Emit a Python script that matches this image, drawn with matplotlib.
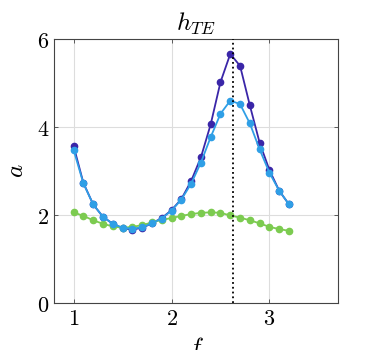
import numpy as np
import matplotlib
matplotlib.use("Agg")
import matplotlib.pyplot as plt

plt.rcParams['mathtext.fontset'] = 'cm'
plt.rcParams['font.family'] = 'serif'
plt.rcParams['font.serif'] = ['DejaVu Serif']

f = [1.0, 1.1, 1.2, 1.3, 1.4, 1.5, 1.6, 1.7, 1.8, 1.9, 2.0, 2.1,
     2.2, 2.3, 2.4, 2.5, 2.6, 2.7, 2.8, 2.9, 3.0, 3.1, 3.2]
a_dark = [3.57, 2.73, 2.24, 1.96, 1.80, 1.70, 1.67, 1.71, 1.81, 1.93, 2.11, 2.36,
          2.77, 3.31, 4.06, 5.02, 5.66, 5.39, 4.49, 3.64, 3.02, 2.55, 2.24]
a_light = [3.48, 2.72, 2.24, 1.96, 1.80, 1.71, 1.69, 1.72, 1.81, 1.92, 2.10, 2.35,
           2.71, 3.19, 3.77, 4.30, 4.60, 4.52, 4.08, 3.49, 2.96, 2.55, 2.24]
a_green = [2.06, 1.98, 1.88, 1.80, 1.74, 1.71, 1.73, 1.77, 1.83, 1.89, 1.93, 1.98,
           2.02, 2.05, 2.06, 2.05, 1.99, 1.94, 1.88, 1.81, 1.73, 1.68, 1.64]
f_marker = 2.63
xticks = [1, 2, 3]
yticks = [0, 2, 4, 6]

fig = plt.figure(figsize=(3.73, 3.5), dpi=100)
ax = fig.add_axes([54/373, 47/350, 284/373, 264/350])

ax.plot(f, a_dark, '-o', color='#3a26a8', lw=1.3, ms=4.5, zorder=3)
ax.plot(f, a_light, '-o', color='#2f9fe6', lw=1.3, ms=4.5, zorder=4)
ax.plot(f, a_green, '-o', color='#7ccb50', lw=1.3, ms=4.5, zorder=3)
ax.axvline(f_marker, color='black', ls=':', lw=1.3, zorder=5)

ax.set_xlim(0.8, 3.7)
ax.set_ylim(0, 6)
ax.set_xticks(xticks)
ax.set_yticks(yticks)
ax.set_xticklabels([f'${t}$' for t in xticks], fontsize=16)
ax.set_yticklabels([f'${t}$' for t in yticks], fontsize=16)
ax.grid(True, color='#dddddd', lw=0.8)
ax.set_axisbelow(True)
ax.tick_params(direction='in', top=True, right=True, length=3, width=0.6, color='#444444')
for s in ax.spines.values():
    s.set_color('#444444')
    s.set_linewidth(0.8)

ax.set_title(r'$h_{TE}$', fontsize=18, pad=6)
ax.set_ylabel(r'$a$', fontsize=18, labelpad=6)
ax.set_xlabel(r'$f$', fontsize=18, labelpad=4)

fig.savefig('out.png', dpi=100)
